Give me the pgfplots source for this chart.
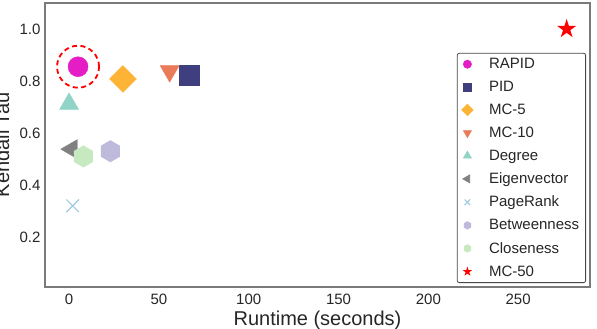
\documentclass[border=0pt]{standalone}
\usepackage{fontspec}
\setmainfont{Liberation Sans}
\usepackage{pgfplots}
\pgfplotsset{compat=1.18}
\definecolor{cRapid}{HTML}{E41EC4}
\definecolor{cPID}{HTML}{3F3F80}
\definecolor{cMCfive}{HTML}{FDB436}
\definecolor{cMCten}{HTML}{EA7B5A}
\definecolor{cDeg}{HTML}{8FD4C6}
\definecolor{cEig}{HTML}{808080}
\definecolor{cPR}{HTML}{9ECAE1}
\definecolor{cBet}{HTML}{BEBADC}
\definecolor{cClo}{HTML}{C7E9C0}
\definecolor{cText}{HTML}{262626}
\definecolor{cFrame}{HTML}{7A7A7A}
\pgfdeclareplotmark{hexagon*}{%
  \pgfpathmoveto{\pgfqpoint{0pt}{\pgfplotmarksize}}%
  \pgfpathlineto{\pgfqpoint{-0.866\pgfplotmarksize}{0.5\pgfplotmarksize}}%
  \pgfpathlineto{\pgfqpoint{-0.866\pgfplotmarksize}{-0.5\pgfplotmarksize}}%
  \pgfpathlineto{\pgfqpoint{0pt}{-\pgfplotmarksize}}%
  \pgfpathlineto{\pgfqpoint{0.866\pgfplotmarksize}{-0.5\pgfplotmarksize}}%
  \pgfpathlineto{\pgfqpoint{0.866\pgfplotmarksize}{0.5\pgfplotmarksize}}%
  \pgfpathclose
  \pgfusepathqfill}
\pgfdeclareplotmark{fstar}{%
  \pgfpathmoveto{\pgfqpointpolar{90}{\pgfplotmarksize}}%
  \pgfpathlineto{\pgfqpointpolar{126}{0.382\pgfplotmarksize}}%
  \pgfpathlineto{\pgfqpointpolar{162}{\pgfplotmarksize}}%
  \pgfpathlineto{\pgfqpointpolar{198}{0.382\pgfplotmarksize}}%
  \pgfpathlineto{\pgfqpointpolar{234}{\pgfplotmarksize}}%
  \pgfpathlineto{\pgfqpointpolar{270}{0.382\pgfplotmarksize}}%
  \pgfpathlineto{\pgfqpointpolar{306}{\pgfplotmarksize}}%
  \pgfpathlineto{\pgfqpointpolar{342}{0.382\pgfplotmarksize}}%
  \pgfpathlineto{\pgfqpointpolar{18}{\pgfplotmarksize}}%
  \pgfpathlineto{\pgfqpointpolar{54}{0.382\pgfplotmarksize}}%
  \pgfpathclose
  \pgfusepathqfill}
\begin{document}
\begin{tikzpicture}
\begin{axis}[
  name=ax,
  width=545pt, height=284pt, scale only axis,
  xmin=-13.4, xmax=290, ymin=0.008, ymax=1.1,
  xtick={0,50,100,150,200,250},
  ytick={0.2,0.4,0.6,0.8,1.0},
  yticklabels={0.2,0.4,0.6,0.8,1.0},
  major tick length=0pt,
  axis line style={draw=cFrame, line width=1.3pt},
  /pgf/number format/assume math mode=true,
  tick label style={font=\fontsize{15}{18}\selectfont, text=cText},
  xticklabel style={anchor=base, yshift=-18pt},
  yticklabel style={xshift=-1pt},
  label style={font=\fontsize{20}{24}\selectfont, text=cText},
  xlabel={Runtime (seconds)},
  ylabel={Kendall Tau},
  xlabel style={at={(axis description cs:0.5,-0.137)}, anchor=base},
  ylabel style={at={(axis description cs:-0.066,0.5)}, anchor=base},
  legend style={at={(axis description cs:0.9927,0.014)}, anchor=south east,
    draw=cText!85, rounded corners=2pt, line width=0.8pt,
    font=\fontsize{15}{18}\selectfont, text=cText,
    nodes={font=\fontsize{15}{18}\selectfont, inner sep=2pt},
    row sep=7pt, inner xsep=4.5pt, inner ysep=3pt,
    /tikz/every odd column/.append style={column sep=14pt}},
  legend cell align=left,
  clip=false,
]
\addplot[only marks, mark=*, mark size=10pt, color=cRapid,
  legend image post style={mark size=4pt}] coordinates {(5,0.855)};
\addlegendentry{RAPID}
\addplot[only marks, mark=square*, mark size=10pt, color=cPID,
  legend image post style={mark size=4pt}] coordinates {(66.7,0.823)};
\addlegendentry{PID}
\addplot[only marks, mark=square*, mark size=9.5pt, color=cMCfive, mark options={rotate=45},
  legend image post style={mark size=4pt}] coordinates {(30,0.808)};
\addlegendentry{MC-5}
\addplot[only marks, mark=triangle*, mark size=11pt, color=cMCten, mark options={rotate=180},
  legend image post style={mark size=4.5pt}] coordinates {(56,0.838)};
\addlegendentry{MC-10}
\addplot[only marks, mark=triangle*, mark size=11pt, color=cDeg,
  legend image post style={mark size=4.5pt}] coordinates {(0,0.712)};
\addlegendentry{Degree}
\addplot[only marks, mark=triangle*, mark size=11pt, color=cEig, mark options={rotate=90},
  legend image post style={mark size=4.5pt}] coordinates {(1.5,0.538)};
\addlegendentry{Eigenvector}
\addplot[only marks, mark=x, mark size=9pt, color=cPR, mark options={line width=1.1pt},
  legend image post style={mark size=4pt}] coordinates {(2,0.32)};
\addlegendentry{PageRank}
\addplot[only marks, mark=hexagon*, mark size=11pt, color=cBet,
  legend image post style={mark size=4.2pt}] coordinates {(23,0.53)};
\addlegendentry{Betweenness}
\addplot[only marks, mark=hexagon*, mark size=11pt, color=cClo,
  legend image post style={mark size=4.2pt}] coordinates {(8,0.51)};
\addlegendentry{Closeness}
\addplot[only marks, mark=fstar, mark size=10pt, color=red,
  legend image post style={mark size=5pt}] coordinates {(277,1.0)};
\addlegendentry{MC-50}
\addplot[only marks, mark=o, mark size=21pt, forget plot, color=red,
  mark options={fill=none, line width=1.8pt, dash pattern=on 5pt off 3.5pt}] coordinates {(5,0.855)};
\end{axis}
\pgfresetboundingbox
\path[use as bounding box] ([xshift=-45pt,yshift=-42pt]ax.south west) rectangle ([xshift=7pt,yshift=3pt]ax.north east);
\end{tikzpicture}
\end{document}
